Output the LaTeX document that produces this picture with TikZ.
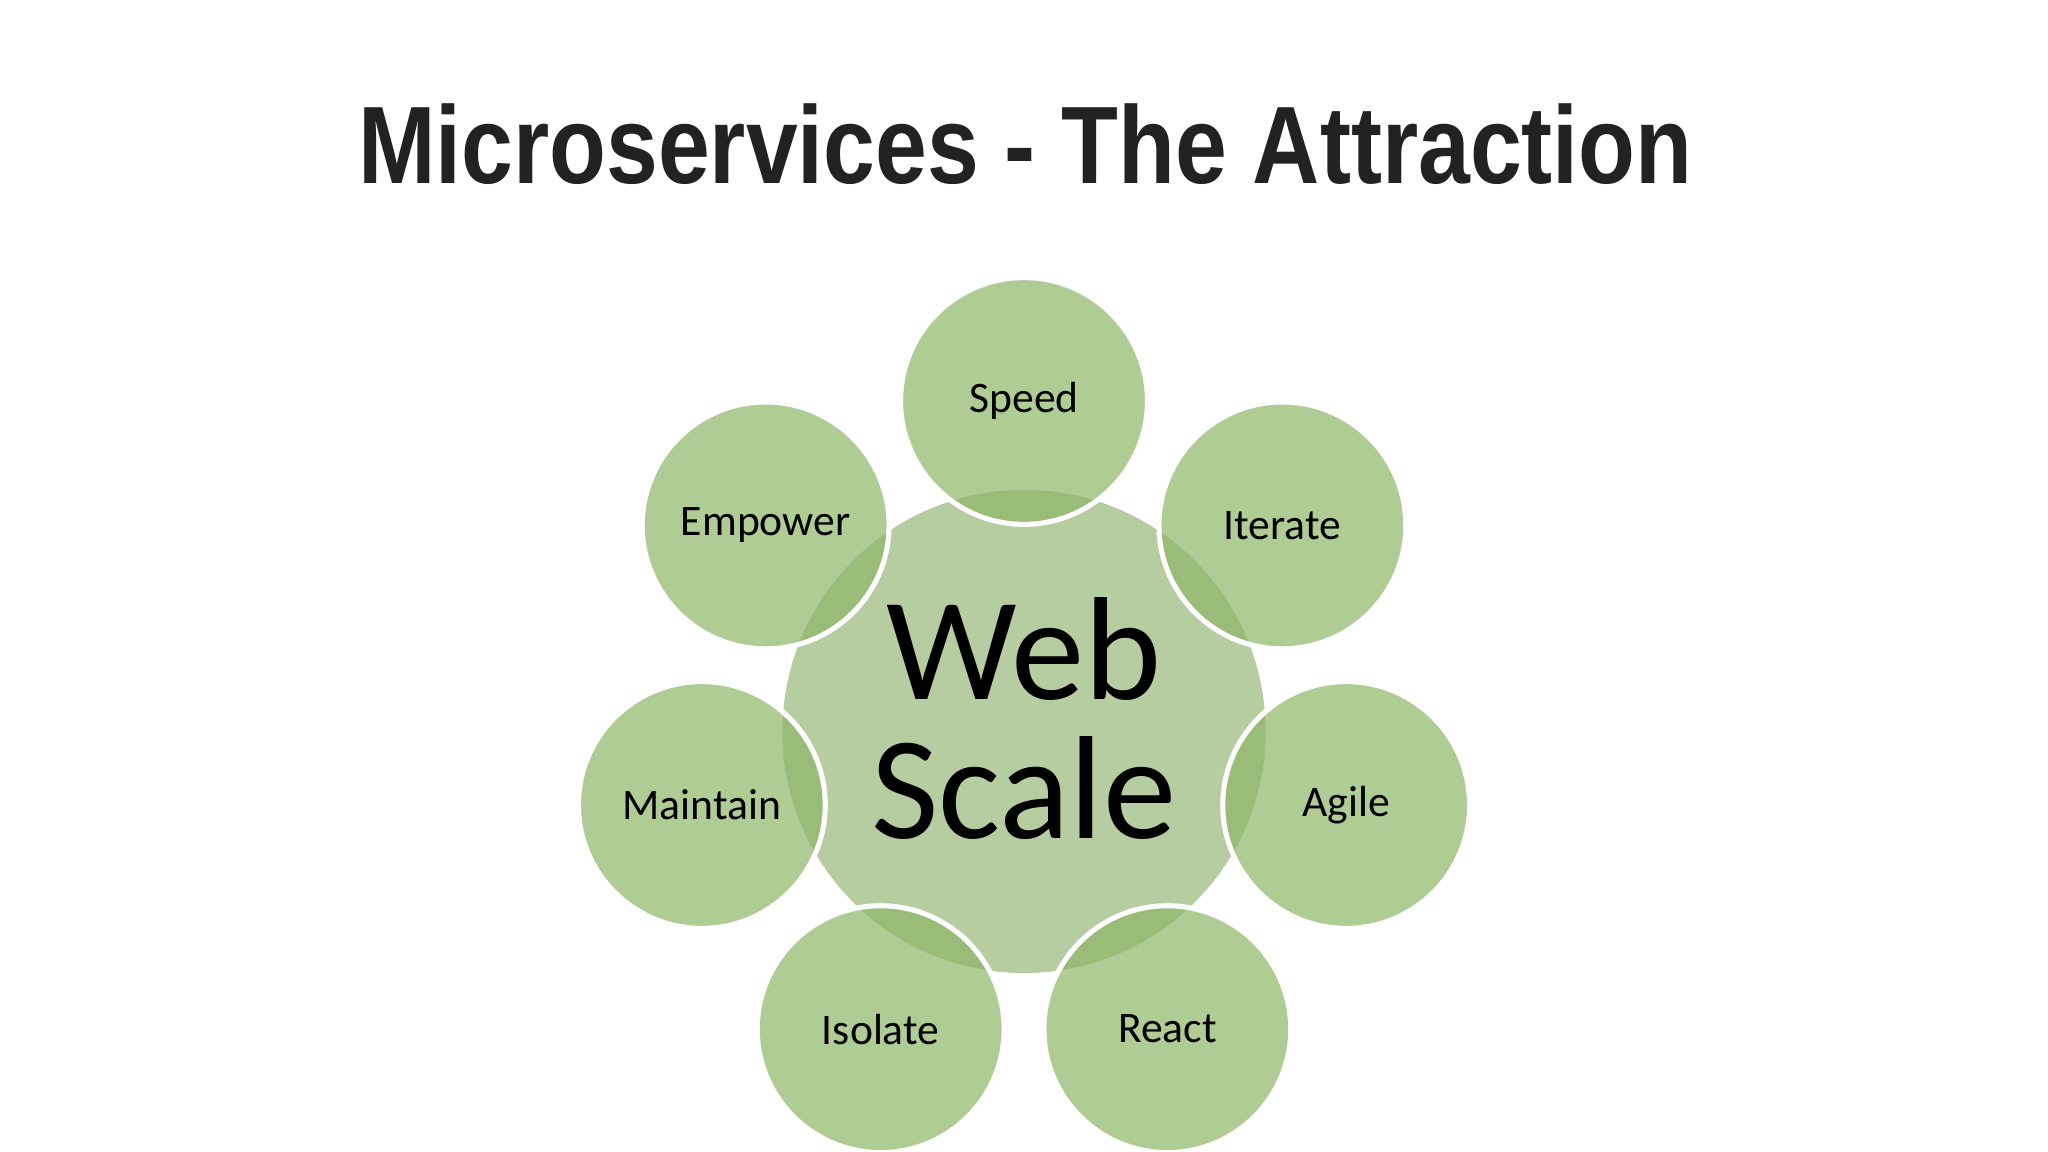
\documentclass[tikz,border=0pt]{standalone}
\usepackage{fontspec}
\setmainfont{Carlito}
\newfontfamily\titlefont{Liberation Sans}
\definecolor{centerc}{HTML}{B6CDA2}
\definecolor{satc}{HTML}{8FB86A}
\definecolor{titlec}{HTML}{222222}
\begin{document}
\begin{tikzpicture}[x=0.02cm,y=-0.02cm,
  sat/.style={circle,minimum size=3.78cm,fill=satc,fill opacity=0.72,draw=white,line width=2.2pt,text opacity=1,font=\fontsize{19}{22}\selectfont,inner sep=0pt}]
\useasboundingbox (0,0) rectangle (1568,882);
\node[font=\titlefont\bfseries\fontsize{48}{56}\selectfont,xscale=0.845,text=titlec] (title) at (785,110) {Microservices - The Attraction};
\node[circle,minimum size=7.4cm,fill=centerc,inner sep=0pt] (c) at (784,560) {};
\foreach \n/\a/\t in {s/90/Speed,i/38.57/Iterate,a/-12.86/Agile,r/-64.29/React,is/-115.71/Isolate,m/-167.14/Maintain,e/141.43/Empower}{
  \node[sat] (\n) at ({784+253*cos(\a)},{560-253*sin(\a)}) {\t};
}
\node[font=\fontsize{64}{65}\selectfont,align=center] (w) at (784,550) {Web\\[-0.15cm]Scale};
\end{tikzpicture}
\end{document}
